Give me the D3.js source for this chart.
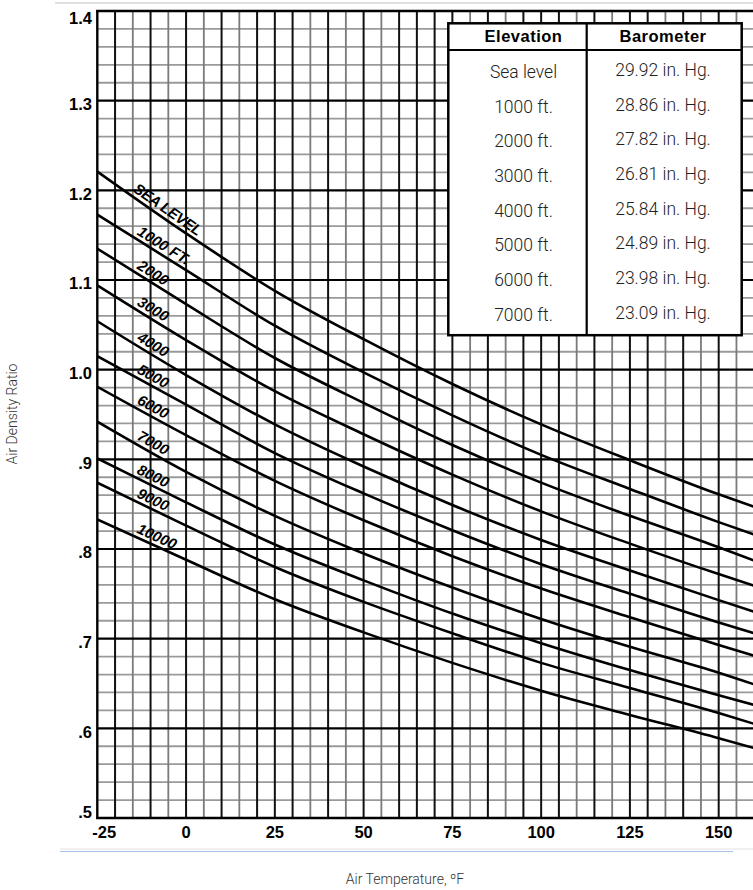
<!DOCTYPE html>
<html><head><meta charset="utf-8">
<script src="https://cdn.jsdelivr.net/npm/d3@7"></script>
<style>body{margin:0;background:#fff}svg{display:block}</style>
</head><body>
<svg id="c" width="753" height="890"></svg>
<script>
// ---------- data ----------
const temps = [-25, 0, 25, 50, 75, 100, 125, 150, 160];
const seriesNames = ["SEA LEVEL", "1000 FT.", "2000", "3000", "4000", "5000", "6000", "7000", "8000", "9000", "10000"];
const seaLevel = [1.221, 1.152, 1.088, 1.034, 0.984, 0.939, 0.899, 0.861, 0.847];
const ft1000  = [1.173, 1.111, 1.049, 0.997, 0.949, 0.905, 0.867, 0.830, 0.816];
const ft2000  = [1.135, 1.073, 1.013, 0.963, 0.916, 0.874, 0.837, 0.802, 0.787];
const ft3000  = [1.094, 1.033, 0.976, 0.928, 0.883, 0.842, 0.806, 0.772, 0.759];
const ft4000  = [1.054, 0.994, 0.939, 0.892, 0.849, 0.810, 0.776, 0.743, 0.730];
const ft5000  = [1.015, 0.961, 0.907, 0.862, 0.821, 0.783, 0.750, 0.718, 0.706];
const ft6000  = [0.981, 0.927, 0.876, 0.832, 0.792, 0.756, 0.724, 0.693, 0.681];
const ft7000  = [0.942, 0.886, 0.837, 0.795, 0.757, 0.722, 0.691, 0.662, 0.649];
const ft8000  = [0.901, 0.852, 0.805, 0.765, 0.728, 0.695, 0.665, 0.637, 0.626];
const ft9000  = [0.874, 0.826, 0.780, 0.741, 0.706, 0.673, 0.645, 0.617, 0.605];
const ft10000 = [0.833, 0.788, 0.744, 0.707, 0.673, 0.642, 0.615, 0.589, 0.578];
const seriesValues = [seaLevel, ft1000, ft2000, ft3000, ft4000, ft5000, ft6000, ft7000, ft8000, ft9000, ft10000];

const xTickValues = [-25, 0, 25, 50, 75, 100, 125, 150];
const xTickLabels = ["-25", "0", "25", "50", "75", "100", "125", "150"];
const yTickValues = [0.5, 0.6, 0.7, 0.8, 0.9, 1.0, 1.1, 1.2, 1.3, 1.4];
const yTickLabels = [".5", ".6", ".7", ".8", ".9", "1.0", "1.1", "1.2", "1.3", "1.4"];
const vGridDark  = [-20, -10, 0, 10, 20, 25, 30, 40, 50, 60, 65, 70, 75, 85, 95, 100, 105, 115, 125, 130, 140, 150];
const vGridLight = [-15, -5, 5, 15, 35, 45, 55, 80, 90, 110, 120, 135, 145, 155];

const tableHeaders = ["Elevation", "Barometer"];
const elevations = ["Sea level", "1000 ft.", "2000 ft.", "3000 ft.", "4000 ft.", "5000 ft.", "6000 ft.", "7000 ft."];
const barometer = ["29.92 in. Hg.", "28.86 in. Hg.", "27.82 in. Hg.", "26.81 in. Hg.", "25.84 in. Hg.", "24.89 in. Hg.", "23.98 in. Hg.", "23.09 in. Hg."];

const xTitle = "Air Temperature, ºF";
const yTitle = "Air Density Ratio";

// ---------- layout ----------
const svg = d3.select("#c");
const L = 97.3, T = 11, B = 818, R = 754.2;
const x = d3.scaleLinear().domain([-25, 160]).range([L, R]);
const y = d3.scaleLinear().domain([0.5, 1.4]).range([B, T]);
const boldFont = "'Liberation Sans', Arial, Helvetica, sans-serif";
const lightFont = "Roboto, 'Noto Sans', sans-serif";

// scan artifacts lines
svg.append("line").attr("x1", 55).attr("x2", 753).attr("y1", 3).attr("y2", 3)
  .attr("stroke", "#d6d6d6").attr("stroke-width", 1.5);
svg.append("line").attr("x1", 60).attr("x2", 753).attr("y1", 849).attr("y2", 849)
  .attr("stroke", "#e2e2e2").attr("stroke-width", 1);
svg.append("line").attr("x1", 60).attr("x2", 733).attr("y1", 851.5).attr("y2", 851.5)
  .attr("stroke", "#a9c3ea").attr("stroke-width", 1.2);

const grid = svg.append("g");
// horizontal grid
const hVals = d3.range(0, 46).map(i => 0.5 + i * 0.02);
const isMajor = v => Math.abs(v * 10 - Math.round(v * 10)) < 1e-6;
grid.selectAll("line.hmin").data(hVals.filter(v => !isMajor(v))).join("line")
  .attr("x1", L).attr("x2", 753).attr("y1", d => y(d)).attr("y2", d => y(d))
  .attr("stroke", "#9a9a9a").attr("stroke-width", 1.8);
// vertical grid
grid.selectAll("line.vl").data(vGridLight).join("line")
  .attr("x1", d => x(d)).attr("x2", d => x(d)).attr("y1", T).attr("y2", B)
  .attr("stroke", "#7a7a7a").attr("stroke-width", 1.8);
grid.selectAll("line.vd").data(vGridDark).join("line")
  .attr("x1", d => x(d)).attr("x2", d => x(d)).attr("y1", T).attr("y2", B)
  .attr("stroke", "#111").attr("stroke-width", 2);
grid.selectAll("line.hmaj").data(yTickValues).join("line")
  .attr("x1", L).attr("x2", 753).attr("y1", d => y(d)).attr("y2", d => y(d))
  .attr("stroke", "#000").attr("stroke-width", 2.2);
// border
svg.append("line").attr("x1", L).attr("x2", L).attr("y1", T - 1).attr("y2", B + 1)
  .attr("stroke", "#000").attr("stroke-width", 2.4);

// curves
svg.append("clipPath").attr("id", "clip").append("rect")
  .attr("x", L).attr("y", T).attr("width", 753 - L).attr("height", B - T);
const line = d3.line().x(d => x(d[0])).y(d => y(d[1])).curve(d3.curveMonotoneX);
svg.append("g").attr("clip-path", "url(#clip)").selectAll("path")
  .data(seriesValues).join("path")
  .attr("d", vals => line(temps.map((t, i) => [t, vals[i]])))
  .attr("fill", "none").attr("stroke", "#000").attr("stroke-width", 2.6);

// curve labels
const labelG = svg.append("g");
seriesValues.forEach((vals, i) => {
  const f = d3.scaleLinear().domain(temps).range(vals);
  const t0 = i === 0 ? -15.8 : -14.6;
  const px0 = x(t0), py0 = y(f(t0));
  const px1 = x(t0 + 8), py1 = y(f(t0 + 8));
  const ang = Math.atan2(py1 - py0, px1 - px0) * 180 / Math.PI;
  labelG.append("text")
    .attr("transform", `translate(${px0},${py0}) rotate(${ang})`)
    .attr("x", 0).attr("y", -4)
    .attr("font-family", boldFont).attr("font-weight", "bold").attr("font-style", "italic")
    .attr("font-size", 15).attr("letter-spacing", i === 0 ? -0.4 : 0).attr("fill", "#000")
    .text(seriesNames[i]);
});

// y tick labels
svg.append("g").selectAll("text").data(yTickValues).join("text")
  .attr("x", 92).attr("y", (d, i) => y(d) + (i === 0 ? -4 : (i === yTickValues.length - 1 ? 9 : 5)))
  .attr("text-anchor", "end").attr("dominant-baseline", "middle")
  .attr("font-family", boldFont).attr("font-weight", "bold").attr("font-size", 16.5).attr("fill", "#000")
  .text((d, i) => yTickLabels[i]);

// x tick labels
svg.append("g").selectAll("text").data(xTickValues).join("text")
  .attr("x", (d, i) => x(d) + (i === 0 ? 7 : 0)).attr("y", 833.5)
  .attr("text-anchor", "middle").attr("dominant-baseline", "middle")
  .attr("font-family", boldFont).attr("font-weight", "bold").attr("font-size", 16.5).attr("fill", "#000")
  .text((d, i) => xTickLabels[i]);

// axis titles
svg.append("text").attr("x", 405).attr("y", 880).attr("text-anchor", "middle")
  .attr("dominant-baseline", "middle").attr("font-family", lightFont).attr("font-weight", 300)
  .attr("font-size", 14).attr("fill", "#333").text(xTitle);
svg.append("text").attr("transform", "translate(13,414) rotate(-90)").attr("text-anchor", "middle")
  .attr("dominant-baseline", "middle").attr("font-family", lightFont).attr("font-weight", 300)
  .attr("font-size", 14).attr("fill", "#333").text(yTitle);

// table
const tb = { x0: 448.3, x1: 741.7, xm: 586.7, y0: 23.3, yh: 50, row0: 73.3, rowH: 34.7 };
const tBottom = tb.row0 + (elevations.length - 1) * tb.rowH + 19;
const tg = svg.append("g");
tg.append("rect").attr("x", tb.x0).attr("y", tb.y0).attr("width", tb.x1 - tb.x0).attr("height", tBottom - tb.y0)
  .attr("fill", "#fff").attr("stroke", "#000").attr("stroke-width", 2.5);
tg.append("line").attr("x1", tb.x0).attr("x2", tb.x1).attr("y1", tb.yh).attr("y2", tb.yh)
  .attr("stroke", "#000").attr("stroke-width", 2.2);
tg.append("line").attr("x1", tb.xm).attr("x2", tb.xm).attr("y1", tb.y0).attr("y2", tBottom)
  .attr("stroke", "#000").attr("stroke-width", 2.2);
const colX = [523.5, 663];
tg.selectAll("text.h").data(tableHeaders).join("text")
  .attr("x", (d, i) => colX[i]).attr("y", 37.5).attr("text-anchor", "middle").attr("dominant-baseline", "middle")
  .attr("font-family", boldFont).attr("font-weight", "bold").attr("font-size", 16.5).attr("letter-spacing", 0.5)
  .attr("fill", "#000").text(d => d);
tg.selectAll("text.e").data(elevations).join("text")
  .attr("x", colX[0]).attr("y", (d, i) => tb.row0 + i * tb.rowH).attr("text-anchor", "middle")
  .attr("dominant-baseline", "middle").attr("font-family", lightFont).attr("font-weight", 300)
  .attr("font-size", 17.5).attr("fill", "#222").text(d => d);
tg.selectAll("text.b").data(barometer).join("text")
  .attr("x", colX[1]).attr("y", (d, i) => tb.row0 - 2 + i * tb.rowH).attr("text-anchor", "middle")
  .attr("dominant-baseline", "middle").attr("font-family", lightFont).attr("font-weight", 300)
  .attr("font-size", 17.5).attr("fill", "#222").text(d => d);

// top & bottom borders on top
svg.append("line").attr("x1", L - 1).attr("x2", 753).attr("y1", T).attr("y2", T)
  .attr("stroke", "#000").attr("stroke-width", 2.4);
svg.append("line").attr("x1", L - 1).attr("x2", 753).attr("y1", B).attr("y2", B)
  .attr("stroke", "#000").attr("stroke-width", 2.4);
</script>
</body></html>
